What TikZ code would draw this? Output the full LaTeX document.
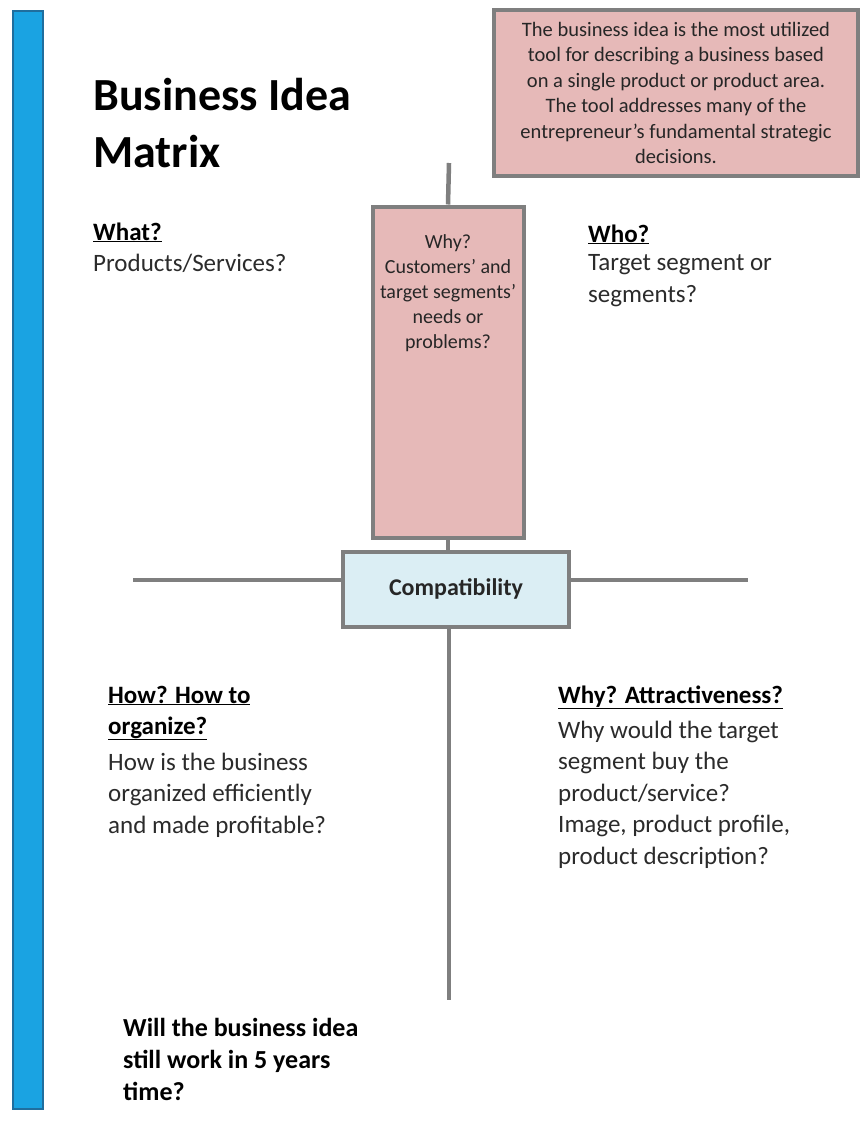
\documentclass[tikz,border=0pt]{standalone}
\usepackage{fontspec}
\setmainfont{Carlito}
\usetikzlibrary{positioning}
\definecolor{barblue}{HTML}{1AA3E2}
\definecolor{bardark}{HTML}{1F6E9E}
\definecolor{linegray}{HTML}{7F7F7F}
\definecolor{boxpink}{HTML}{E6B9B8}
\definecolor{boxblue}{HTML}{DBEEF4}
\definecolor{bodygray}{HTML}{2B2B2B}

\begin{document}
\begin{tikzpicture}[x=1pt, y=-1pt,
    axis/.style={linegray, line width=4.5pt},
    pinkbox/.style={draw=linegray, line width=4pt, fill=boxpink, inner sep=0pt},
    head/.style={anchor=base west, inner sep=0pt, align=left,
        font=\fontsize{25}{31}\selectfont\bfseries},
    body/.style={anchor=base west, align=left, inner sep=0pt, text=bodygray,
        font=\fontsize{25}{31.5}\selectfont}]
    \useasboundingbox (0,0) rectangle (862,1124);
    \fill[white] (0,0) rectangle (862,1124);
    % side bar
    \draw[fill=barblue, draw=bardark, line width=1.2pt] (13,11) rectangle (43,1109);
    % title
    \node[anchor=base west, inner sep=0pt, font=\fontsize{46}{57}\selectfont\bfseries, align=left] (title) at (93,167) {Business Idea\\Matrix};
    % boxes
    \node[pinkbox, minimum width=364pt, minimum height=166pt, align=center,
        font=\fontsize{20.5}{25.5}\selectfont, text=black!85] (intro) at (676,93)
        {The business idea is the most utilized\\tool for describing a business based\\on a single product or product area.\\The tool addresses many of the\\entrepreneur's fundamental strategic\\decisions.};
    \node[pinkbox, minimum width=151pt, minimum height=331pt] (why) at (448,372) {};
    \node[anchor=base, align=center, inner sep=0pt, font=\fontsize{20}{25}\selectfont, text=black!85] (whytext) at (448,348)
        {Why?\\Customers' and\\target segments'\\needs or\\problems?};
    \node[draw=linegray, line width=4pt, fill=boxblue, minimum width=226pt, minimum height=75pt,
        font=\fontsize{24}{28}\selectfont\bfseries, text=black!85] (compat) at (456,589) {Compatibility};
    % axes
    \coordinate (vtop) at (449,163);
    \coordinate (vbot) at (449,1000);
    \coordinate (hleft) at (133,580);
    \coordinate (hright) at (748,580);
    \draw[axis] (vtop) -- (why.north);
    \draw[axis] (why.south) -- (compat.north -| why.south);
    \draw[axis] (compat.south -| vbot) -- (vbot);
    \draw[axis] (hleft) -- (compat.west |- hleft);
    \draw[axis] (compat.east |- hright) -- (hright);
    % quadrants
    \node[head] (what) at (93,240) {\underline{What?}};
    \node[body] (whatbody) at (93,271) {Products/Services?};
    \node[head] (who) at (588,242) {\underline{Who?}};
    \node[body] (whobody) at (588,302) {Target segment or\\segments?};
    \node[head] (how) at (108,734) {\underline{How? How to}\\\underline{organize?}};
    \node[body] (howbody) at (108,833) {How is the business\\organized efficiently\\and made profitable?};
    \node[head] (attr) at (558,703) {\underline{Why? Attractiveness?}};
    \node[body] (attrbody) at (558,864) {Why would the target\\segment buy the\\product/service?\\Image, product profile,\\product description?};
    \node[anchor=base west, align=left, inner sep=0pt, font=\fontsize{26}{32}\selectfont\bfseries] (future) at (123,1100)
        {Will the business idea\\still work in 5 years\\time?};
\end{tikzpicture}
\end{document}
